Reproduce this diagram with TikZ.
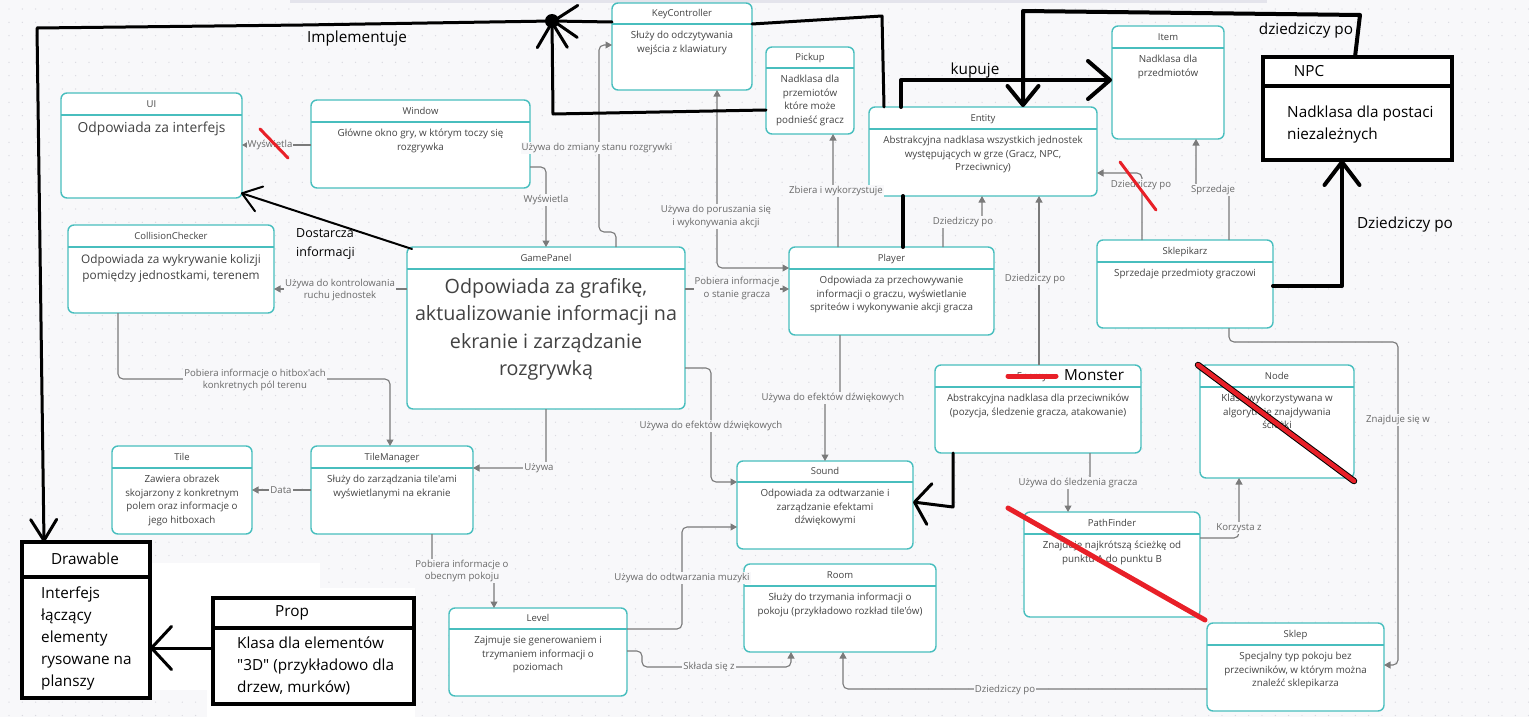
\documentclass[tikz,border=0pt]{standalone}
\usepackage{fontspec}
\setmainfont{Open Sans}[Ligatures=TeXOff]
\usetikzlibrary{arrows.meta,calc}
\definecolor{bg}{RGB}{248,248,250}
\definecolor{dotc}{RGB}{218,218,225}
\definecolor{bandc}{RGB}{228,228,236}
\definecolor{teal1}{RGB}{72,190,190}
\definecolor{conng}{RGB}{122,122,122}
\definecolor{txt}{RGB}{66,66,66}
\definecolor{lblc}{RGB}{105,105,105}
\definecolor{redm}{RGB}{232,32,40}
\tikzset{
  tri/.tip={Triangle[length=6.5pt,width=7pt]},
  ubox/.style={draw=teal1, line width=1.4pt, rounded corners=6pt, fill=white, inner sep=0pt, outer sep=0pt},
  usep/.style={draw=teal1, line width=1.4pt},
  utitle/.style={font=\fontsize{9.5}{11}\selectfont, text=txt, inner sep=0pt, text height=7.6pt, text depth=1.2pt},
  ubody/.style={text=txt, inner sep=0pt, align=center, anchor=north},
  conn/.style={draw=conng, line width=1.1pt, rounded corners=5pt, -tri},
  lbl/.style={font=\fontsize{9.6}{12.5}\selectfont, text=lblc, fill=bg, inner sep=1pt, align=center},
  blk/.style={draw=black, line width=3pt, line cap=round, line join=round},
  bbox/.style={draw=black, line width=4pt, fill=white, inner sep=0pt, outer sep=0pt},
  bsep/.style={draw=black, line width=4pt},
  btxt/.style={text=black, inner sep=0pt, font=\fontsize{15.3}{21}\selectfont},
  bone/.style={btxt, text height=9.6pt, text depth=0pt},
  redl/.style={draw=redm, line cap=round},
}
\newcommand\umlbox[9][\fontsize{9.8}{13.5}\selectfont]{%
  \node[ubox, minimum width=#5pt, minimum height=#6pt, anchor=north west] (#2) at (#3,#4) {};
  \draw[usep] ($(#2.north west)+(0,#7)$) -- ($(#2.north east)+(0,#7)$);
  \node[utitle] (#2-t) at ($(#2.north)+(0,#7/2)$) {#8};
  \node[ubody, font={#1}] (#2-b) at ($(#2.north)+(0,#7+5)$) {\strut #9};
}
\begin{document}
\begin{tikzpicture}[x=1pt,y=-1pt]
\useasboundingbox (0,0) rectangle (1529,717);
\fill[bg] (0,0) rectangle (1529,717);
\foreach \yy in {9,22.33,...,717}
  \draw[draw=dotc, line width=1.4pt, line cap=round, dash pattern=on 0pt off 13.33pt] (9,\yy) -- (1529,\yy);
\fill[bandc] (290,0) rectangle (1267,3);
\fill[white] (20,563) rectangle (320,690);
\fill[white] (207,588) rectangle (415,717);

% ---------- boxes ----------
\umlbox[\fontsize{13.8}{18}\selectfont]{ui}{61}{93}{181}{105}{22}{UI}{Odpowiada za interfejs}
\umlbox{window}{311}{100}{219}{88}{22}{Window}{Główne okno gry, w którym toczy się\\rozgrywka}
\umlbox{keyc}{612}{3}{140}{87}{21}{KeyController}{Służy do odczytywania\\wejścia z klawiatury}
\umlbox{pickup}{766}{47}{88}{87}{21}{Pickup}{Nadklasa dla\\przemiotów\\które może\\podnieść gracz}
\umlbox{entity}{869}{107}{228}{89}{22}{Entity}{Abstrakcyjna nadklasa wszystkich jednostek\\występujących w grze (Gracz, NPC,\\Przeciwnicy)}
\umlbox{item}{1112}{26}{112}{113}{22}{Item}{Nadklasa dla\\przedmiotów}
\umlbox[\fontsize{11.8}{16}\selectfont]{collision}{68}{225}{206}{88}{22}{CollisionChecker}{Odpowiada za wykrywanie kolizji\\pomiędzy jednostkami, terenem}
\umlbox[\fontsize{19.7}{27.5}\selectfont]{gamepanel}{407}{247}{278}{162}{22}{GamePanel}{Odpowiada za grafikę,\\aktualizowanie informacji na\\ekranie i zarządzanie\\rozgrywką}
\umlbox{player}{789}{247}{205}{88}{22}{Player}{Odpowiada za przechowywanie\\informacji o graczu, wyświetlanie\\spriteów i wykonywanie akcji gracza}
\umlbox{sklepikarz}{1097}{240}{176}{88}{22}{Sklepikarz}{Sprzedaje przedmioty graczowi}
\umlbox{monster}{935}{365}{206}{88}{22}{}{Abstrakcyjna nadklasa dla przeciwników\\(pozycja, śledzenie gracza, atakowanie)}
\umlbox{nodebox}{1200}{365}{154}{113}{22}{Node}{Klasa wykorzystywana w\\algorytmie znajdywania\\ścieżki}
\umlbox{pathfinder}{1024}{512}{176}{105}{22}{PathFinder}{Znajduje najkrótszą ścieżkę od\\punktu A do punktu B}
\umlbox{sklep}{1207}{623}{177}{88}{22}{Sklep}{Specjalny typ pokoju bez\\przeciwników, w którym można\\znaleźć sklepikarza}
\umlbox{tile}{112}{446}{140}{88}{22}{Tile}{Zawiera obrazek\\skojarzony z konkretnym\\polem oraz informacje o\\jego hitboxach}
\umlbox{tilemanager}{311}{446}{162}{88}{22}{TileManager}{Służy do zarządzania tile'ami\\wyświetlanymi na ekranie}
\umlbox{sound}{737}{461}{176}{88}{21}{Sound}{Odpowiada za odtwarzanie i\\zarządzanie efektami\\dźwiękowymi}
\umlbox{room}{744}{564}{192}{88}{22}{Room}{Służy do trzymania informacji o\\pokoju (przykładowo rozkład tile'ów)}
\umlbox{level}{449}{608}{178}{88}{21}{Level}{Zajmuje sie generowaniem i\\trzymaniem informacji o\\poziomach}
\node[utitle] (enemyt) at (1032,376) {Enemy};
\node[bone] (monstert) at (1094,376) {Monster};

% black boxes
\node[bbox, minimum width=189pt, minimum height=103pt, anchor=north west] (npc) at (1263,57) {};
\draw[bsep] (npc.north west |- 0,86) -- (npc.north east |- 0,86);
\node[bone] (npc-t) at (1309,72) {NPC};
\node[btxt, align=left, anchor=north west] (npc-b) at (1287,103.1) {\strut Nadklasa dla postaci\\niezależnych};

\node[bbox, minimum width=128pt, minimum height=156pt, anchor=north west] (drawable) at (22,542) {};
\draw[bsep] (drawable.north west |- 0,577) -- (drawable.north east |- 0,577);
\node[bone] (drawable-t) at (85,560) {Drawable};
\node[btxt, align=left, anchor=north west, font=\fontsize{15.3}{22}\selectfont] (drawable-b) at (41,582.4) {\strut Interfejs\\łączący\\elementy\\rysowane na\\planszy};

\node[bbox, minimum width=201pt, minimum height=106pt, anchor=north west] (prop) at (213,598) {};
\draw[bsep] (prop.north west |- 0,628) -- (prop.north east |- 0,628);
\node[bone] (prop-t) at (292,612) {Prop};
\node[btxt, align=left, anchor=north west, font=\fontsize{15.3}{22}\selectfont] (prop-b) at (237,632.4) {\strut Klasa dla elementów\\"3D" (przykładowo dla\\drzew, murków)};

% ---------- gray connectors ----------
\draw[conn] (window.west |- 0,145) -- (ui.east |- 0,145);
\draw[conn] (window.east |- 0,167) -- (546,167) -- (gamepanel.north -| 546,0);
\draw[conn] (gamepanel.north -| 616,0) -- (616,232) -- (599,232) -- (599,45) -- (keyc.west |- 0,45);
\draw[conn, tri-tri] (keyc.south -| 717,0) -- (717,268) -- (player.west |- 0,268);
\draw[conn] (player.north -| 838,0) -- (838,191) -- (833,191) -- (pickup.south -| 833,0);
\draw[conn] (player.north -| 943,0) -- (943,222) -- (982,222) -- (entity.south -| 982,0);
\draw[conn] (monster.north -| 1039,0) -- (entity.south -| 1039,0);
\draw[conn] (sklepikarz.north -| 1142,0) -- (1142,173) -- (entity.east |- 0,173);
\draw[conn] (sklepikarz.north -| 1229,0) -- (1229,190) -- (1196,190) -- (item.south -| 1196,0);
\draw[conn] (sklepikarz.south -| 1229,0) -- (1229,342) -- (1398,342) -- (1398,665) -- (sklep.east |- 0,665);
\draw[conn] (monster.south -| 1090,0) -- (1090,483) -- (1068,483) -- (pathfinder.north -| 1068,0);
\draw[conn] (pathfinder.east |- 0,538) -- (1239,538) -- (nodebox.south -| 1239,0);
\draw[conn] (sklep.west |- 0,689) -- (843,689) -- (room.south -| 843,0);
\draw[conn] (level.east |- 0,651) -- (642,651) -- (642,667) -- (791,667) -- (room.south -| 791,0);
\draw[conn] (level.east |- 0,629) -- (682,629) -- (682,527) -- (sound.west |- 0,527);
\draw[conn] (player.south -| 840,0) -- (840,398) -- (825,398) -- (sound.north -| 825,0);
\draw[conn] (gamepanel.east |- 0,368) -- (711,368) -- (711,482) -- (sound.west |- 0,482);
\draw[conn] (gamepanel.south -| 546,0) -- (546,468) -- (tilemanager.east |- 0,468);
\draw[conn] (tilemanager.south -| 432,0) -- (432,570) -- (494,570) -- (level.north -| 494,0);
\draw[conn] (tilemanager.west |- 0,490) -- (tile.east |- 0,490);
\draw[conn] (collision.south -| 118,0) -- (118,379) -- (390,379) -- (tilemanager.north -| 390,0);
\draw[conn] (gamepanel.west |- 0,289) -- (collision.east |- 0,289);
\draw[conn] (gamepanel.east |- 0,289) -- (player.west |- 0,289);

% ---------- gray labels ----------
\node[lbl] (l1) at (270,145) {Wyświetla};
\node[lbl] (l2) at (546,200) {Wyświetla};
\node[lbl] (l3) at (597,148) {Używa do zmiany stanu rozgrywki};
\node[lbl] (l4) at (716,216.5) {Używa do poruszania się\\i wykonywania akcji};
\node[lbl] (l5) at (836,191) {Zbiera i wykorzystuje};
\node[lbl] (l6) at (963,222) {Dziedziczy po};
\node[lbl] (l7) at (1035,279) {Dziedziczy po};
\node[lbl] (l8) at (1141,185) {Dziedziczy po};
\node[lbl] (l9) at (1213,190) {Sprzedaje};
\node[lbl] (l10) at (1398,420) {Znajduje się w};
\node[lbl] (l11) at (1078,483) {Używa do śledzenia gracza};
\node[lbl] (l12) at (1239,528) {Korzysta z};
\node[lbl] (l13) at (1005,690) {Dziedziczy po};
\node[lbl] (l14) at (709,667) {Składa się z};
\node[lbl] (l15) at (682,578) {Używa do odtwarzania muzyki};
\node[lbl] (l16) at (833,398) {Używa do efektów dźwiękowych};
\node[lbl] (l17) at (711,426) {Używa do efektów dźwiękowych};
\node[lbl] (l18) at (539,468) {Używa};
\node[lbl] (l19) at (462,571) {Pobiera informacje o\\obecnym pokoju};
\node[lbl] (l20) at (281,490) {Data};
\node[lbl] (l21) at (255,380) {Pobiera informacje o hitbox'ach\\konkretnych pól terenu};
\node[lbl] (l22) at (340,290) {Używa do kontrolowania\\ruchu jednostek};
\node[lbl] (l23) at (737,288.5) {Pobiera informacje\\o stanie gracza};

% ---------- black hand-drawn connectors ----------
\coordinate (dot) at (552,21);
\draw[blk, -{Straight Barb[length=21pt,width=26pt,round]}] (dot) -- (303,25) -- (37,28) -- (drawable.north -| 44,0);
\draw[blk, -{Straight Barb[length=24pt,width=32pt,round]}] (keyc.west |- 0,22) -- (dot);
\draw[blk, -{Straight Barb[length=25pt,width=30pt,round]}] (pickup.west |- 0,110) -- (553,114) -- (dot);
\fill[black] (dot) circle[radius=7pt];
\draw[blk] (keyc.east |- 0,24) -- (882,16) -- (entity.north -| 884,0);
\draw[blk, line width=4pt, -{Straight Barb[length=22pt,width=38pt,round]}] (entity.north -| 901,0) -- (901,80) -- (item.west |- 0,80);
\draw[blk, line width=4pt, -{Straight Barb[length=19pt,width=31pt,round]}] (npc.north -| 1355,0) -- (1360,15) -- (1023,11) -- (entity.north -| 1023,0);
\draw[blk, line width=4pt, -{Straight Barb[length=23pt,width=35pt,round]}] (sklepikarz.east |- 0,286) -- (1342,286) -- (npc.south -| 1342,0);
\draw[blk, line width=4pt] (player.north -| 903,0) -- (entity.south -| 903,0);
\draw[blk, line width=2pt, -{Straight Barb[length=18pt,width=26pt,round]}] ($(gamepanel.north west)+(5,2)$) -- ($(ui.south east)+(-1,-5)$);
\draw[blk, -{Straight Barb[length=15pt,width=41pt,round]}] (monster.south -| 953,0) -- (953,507) -- (sound.east |- 0,502);
\draw[blk, -{Straight Barb[length=20pt,width=43pt,round]}] (prop.west |- 0,648) -- (drawable.east |- 0,648);

% black annotation texts
\node[bone] (implt) at (357,38) {Implementuje};
\node[bone] (kupt) at (975,70) {kupuje};
\node[bone] (dzt1) at (1306,30) {dziedziczy po};
\node[bone] (dzt2) at (1405,224) {Dziedziczy po};
\node[btxt, align=left, anchor=north west, font=\fontsize{12.5}{19}\selectfont] (dost) at (296,223.7) {\strut Dostarcza\\informacji};

% ---------- red strike marks ----------
\draw[redl, line width=3pt] (260,129) -- (288,158);
\draw[redl, line width=3pt] (1120,162) -- (1156,210);
\draw[redl, line width=5pt] (1008,376) -- (1056,376);
\draw[black, line width=6.5pt, line cap=round] (1198,365) -- (1354,481);
\draw[redl, line width=4.5pt] (1198,365) -- (1354,481);
\draw[redl, line width=5pt] (1008,508) -- (1205,620);
\end{tikzpicture}
\end{document}
